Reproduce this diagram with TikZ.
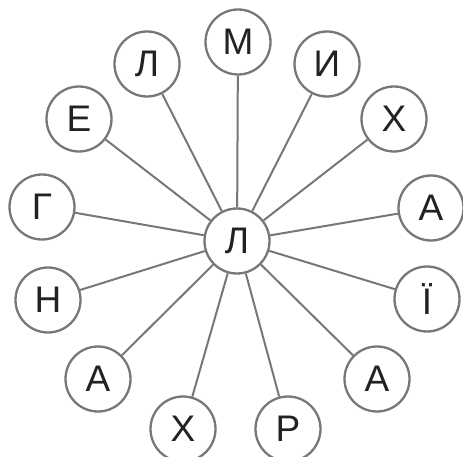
\documentclass[tikz,border=0pt]{standalone}
\usepackage{fontspec}
\setmainfont{Liberation Sans}
\definecolor{edgegray}{HTML}{777777}
\definecolor{txt}{HTML}{222222}
\begin{document}
\begin{tikzpicture}[x=1pt,y=-1pt,
  letter/.style={circle,draw=edgegray,line width=2.3pt,fill=white,minimum size=65pt,inner sep=0pt,
    text=txt,font=\fontsize{37}{37}\selectfont},
  spoke/.style={draw=edgegray,line width=2pt}]
\useasboundingbox (0,0) rectangle (463,457);
\node[letter] (c) at (237,241) {Л};
\node[letter] (n1) at (238,42) {М};
\node[letter] (n2) at (327,64) {И};
\node[letter] (n3) at (394,119) {Х};
\node[letter] (n4) at (431,208) {А};
\node[letter] (n5) at (427,299) {Ї};
\node[letter] (n6) at (377,379) {А};
\node[letter] (n7) at (288,429) {Р};
\node[letter] (n8) at (183,429) {Х};
\node[letter] (n9) at (98,379) {А};
\node[letter] (n10) at (48,300) {Н};
\node[letter] (n11) at (42,207) {Г};
\node[letter] (n12) at (79,119) {Е};
\node[letter] (n13) at (147,64) {Л};
\foreach \i in {1,...,13} {\draw[spoke] (c) -- (n\i);}
\end{tikzpicture}
\end{document}
